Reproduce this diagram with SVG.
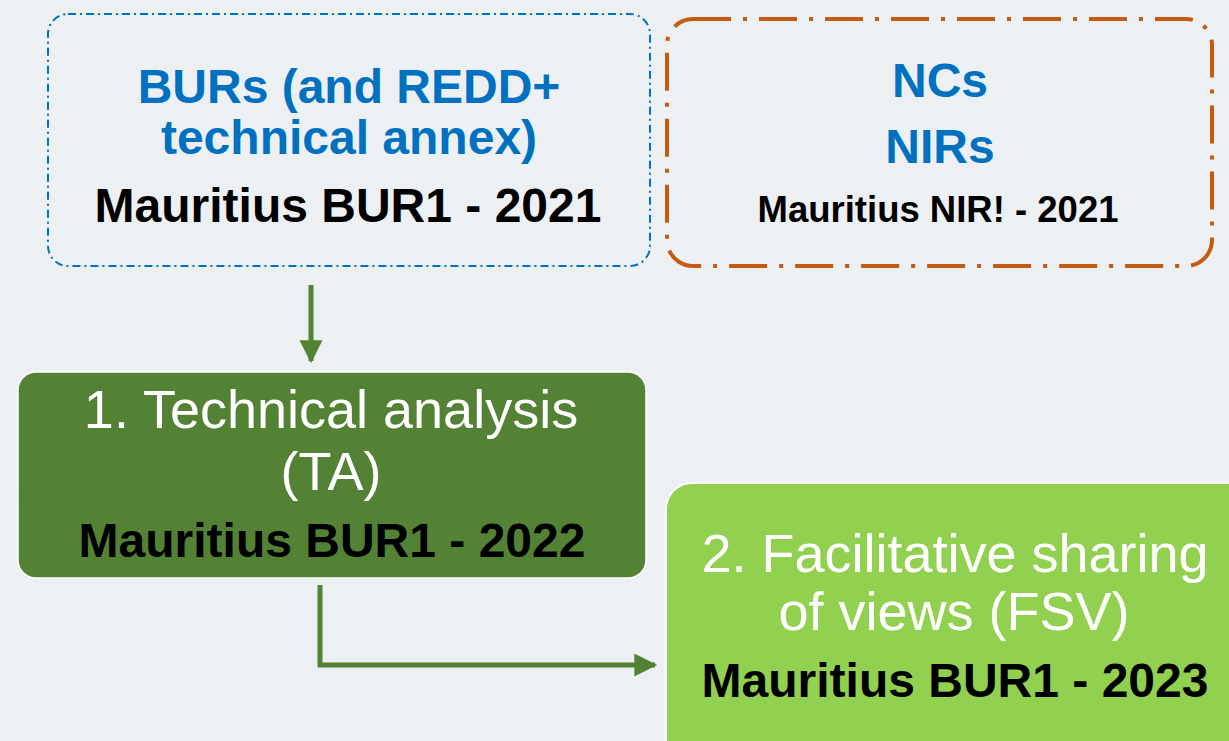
<svg xmlns="http://www.w3.org/2000/svg" width="1229" height="741" viewBox="0 0 1229 741">
<defs>
<style>
.t{font-family:"Liberation Sans",Arial,sans-serif;text-anchor:middle}
.blue{fill:#0070c0;font-weight:bold;font-size:48px}
.blk{fill:#000;font-weight:bold;font-size:48px}
.wht{fill:#fff;font-size:54px}
.conn{fill:none;stroke:#548235;stroke-width:5}
</style>
<marker id="ah" viewBox="0 0 10 10" refX="9" refY="5" markerWidth="5" markerHeight="4.6" orient="auto" markerUnits="strokeWidth">
<path d="M0,0 L10,5 L0,10 Z" fill="#548235"/>
</marker>
</defs>
<rect x="0" y="0" width="1229" height="741" fill="#edf0f2"/>
<g id="node-burs">
<rect x="48" y="14" width="602" height="252" rx="20" fill="none" stroke="#0070c0" stroke-width="2" stroke-dasharray="8 4 2 4"/>
<text class="t blue" x="349" y="103">BURs (and REDD+</text>
<text class="t blue" x="349" y="154">technical annex)</text>
<text class="t blk" x="348" y="222">Mauritius BUR1 - 2021</text>
</g>
<g id="node-ncs">
<rect x="667" y="19" width="545" height="247" rx="26" fill="none" stroke="#c55a11" stroke-width="4" stroke-dasharray="38 12 4 12"/>
<text class="t blue" x="940" y="97">NCs</text>
<text class="t blue" x="940" y="163">NIRs</text>
<text class="t" x="938" y="222" style="font-weight:bold;font-size:36.5px;fill:#000">Mauritius NIR! - 2021</text>
</g>
<g id="node-ta">
<rect x="18" y="372" width="628" height="206" rx="18" fill="#548235" stroke="#fff" stroke-width="1.5"/>
<text class="t wht" x="331" y="428">1. Technical analysis</text>
<text class="t wht" x="331" y="490">(TA)</text>
<text class="t blk" x="332" y="557">Mauritius BUR1 - 2022</text>
</g>
<g id="node-fsv">
<rect x="666" y="483" width="590" height="290" rx="26" fill="#92d050" stroke="#fff" stroke-width="2"/>
<text class="t wht" x="955" y="572">2. Facilitative sharing</text>
<text class="t wht" x="954" y="630">of views (FSV)</text>
<text class="t blk" x="955" y="697">Mauritius BUR1 - 2023</text>
</g>
<g id="connectors">
<path class="conn" d="M311,285 V361" marker-end="url(#ah)"/>
<path class="conn" d="M320,585 V665 H655" marker-end="url(#ah)"/>
</g>
</svg>
